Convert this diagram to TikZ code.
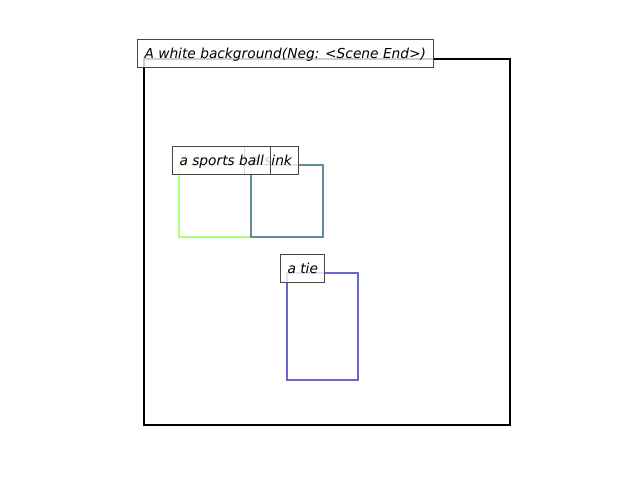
\documentclass[tikz,border=0pt]{standalone}
\usepackage{fontspec}
\setmainfont{DejaVu Sans}
\begin{document}
\begin{tikzpicture}[x=0.72pt,y=-0.72pt,
  lbl/.style={draw=black!72, line width=0.72pt, fill=white, fill opacity=0.8, text opacity=1,
    font=\fontsize{9.9pt}{12pt}\selectfont\itshape, inner xsep=5.04pt, inner ysep=0pt,
    minimum height=20.16pt, text height=8.4pt, text depth=1.6pt, anchor=south west},
  bbox/.style={line width=1.8pt}]
\useasboundingbox (0,0) rectangle (640,480);
\definecolor{cgreen}{RGB}{170,255,128}
\definecolor{cteal}{RGB}{96,144,150}
\definecolor{cblue}{RGB}{102,102,214}
\draw[bbox, black] (144,59) rectangle (510,425);
\node[lbl] (bg) at (137,68) {A white background(Neg: <Scene End>)};
\draw[bbox, cgreen] (179,165) rectangle (251,237);
\draw[bbox, cteal] (251,165) rectangle (323,237);
\node[lbl] (sink) at (244,175) {a sink};
\node[lbl] (ball) at (172,175) {a sports ball};
\draw[bbox, cblue] (287,273) rectangle (358,380);
\node[lbl] (tie) at (280,283) {a tie};
\end{tikzpicture}
\end{document}
